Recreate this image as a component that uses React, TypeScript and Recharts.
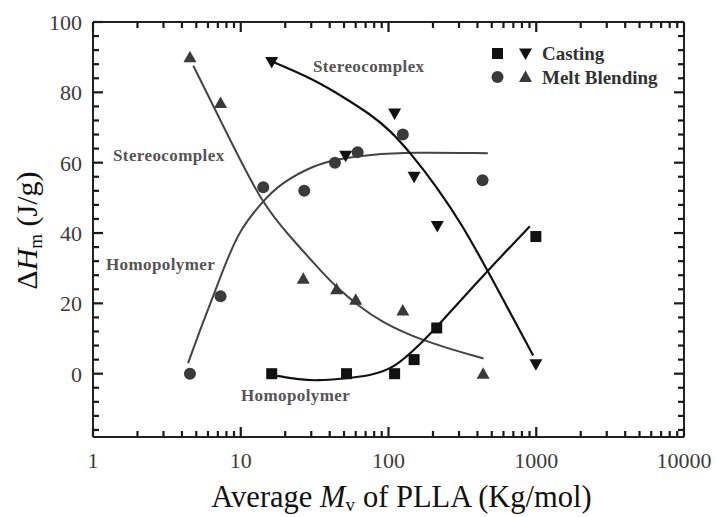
import React from 'react'
import {
  ComposedChart,
  Line,
  Scatter,
  XAxis,
  YAxis,
  ReferenceDot,
  Legend,
} from 'recharts'

// measured points (x = Mv in kg/mol, y = ΔHm in J/g)
const meltStereo = [
  { x: 4.53, y: 0 },
  { x: 7.3, y: 22 },
  { x: 14.2, y: 53 },
  { x: 26.9, y: 52 },
  { x: 43.4, y: 60 },
  { x: 61.8, y: 63 },
  { x: 125, y: 68 },
  { x: 433, y: 55 },
]
const meltHomo = [
  { x: 4.53, y: 90 },
  { x: 7.3, y: 77 },
  { x: 26.5, y: 27 },
  { x: 44.5, y: 24 },
  { x: 60, y: 21 },
  { x: 125, y: 18 },
  { x: 437, y: 0 },
]
const castHomo = [
  { x: 16.2, y: 0 },
  { x: 52, y: 0 },
  { x: 110, y: 0 },
  { x: 149, y: 4 },
  { x: 212, y: 13 },
  { x: 994, y: 39 },
]
const castStereo = [
  { x: 16.2, y: 88.6 },
  { x: 51.3, y: 62 },
  { x: 110, y: 74 },
  { x: 149, y: 56 },
  { x: 214, y: 42 },
  { x: 994, y: 2.7 },
]

// hand-drawn guide curves
const meltStereoFit = [
  { x: 4.4, y: 3 },
  { x: 5.3, y: 12.4 },
  { x: 6.5, y: 22 },
  { x: 8, y: 32 },
  { x: 9.9, y: 41 },
  { x: 13.8, y: 48.6 },
  { x: 18.4, y: 54 },
  { x: 31, y: 59.2 },
  { x: 44.5, y: 61 },
  { x: 75, y: 62.3 },
  { x: 140, y: 63 },
  { x: 470, y: 62.7 },
]
const meltHomoFit = [
  { x: 4.77, y: 87.6 },
  { x: 8, y: 68.6 },
  { x: 13.8, y: 48.6 },
  { x: 21.5, y: 39 },
  { x: 34.4, y: 29.5 },
  { x: 44.5, y: 24.5 },
  { x: 64, y: 19 },
  { x: 87.5, y: 15 },
  { x: 163, y: 9.5 },
  { x: 440, y: 4.3 },
]
const castHomoFit = [
  { x: 17.5, y: -0.6 },
  { x: 25, y: -1.7 },
  { x: 33, y: -2 },
  { x: 49, y: -1.4 },
  { x: 75, y: -0.6 },
  { x: 110, y: 1.6 },
  { x: 163, y: 8.3 },
  { x: 211, y: 13.2 },
  { x: 461, y: 29 },
  { x: 905, y: 41.9 },
]
const castStereoFit = [
  { x: 15.8, y: 89 },
  { x: 31, y: 83.8 },
  { x: 52, y: 78.1 },
  { x: 75, y: 73.8 },
  { x: 102, y: 69.3 },
  { x: 140, y: 62.9 },
  { x: 211, y: 53.3 },
  { x: 320, y: 41.9 },
  { x: 473, y: 29 },
  { x: 953, y: 5.2 },
]

const annotations = [
  { text: 'Stereocomplex', x: 30.8, y: 87.4 },
  { text: 'Stereocomplex', x: 1.366, y: 62 },
  { text: 'Homopolymer', x: 1.224, y: 31 },
  { text: 'Homopolymer', x: 10.04, y: -6.3 },
]

const xMajorTicks = [1, 10, 100, 1000, 10000]
const xTicks = [
  1, 2, 3, 4, 5, 6, 7, 8, 9,
  10, 20, 30, 40, 50, 60, 70, 80, 90,
  100, 200, 300, 400, 500, 600, 700, 800, 900,
  1000, 2000, 3000, 4000, 5000, 6000, 7000, 8000, 9000,
  10000,
]
const yMajorTicks = [0, 20, 40, 60, 80, 100]
const yTicks = [
  -16, -12, -8, -4, 0, 4, 8, 12, 16, 20, 24, 28, 32, 36, 40, 44, 48, 52,
  56, 60, 64, 68, 72, 76, 80, 84, 88, 92, 96, 100,
]

const SERIF = '"Liberation Serif", "Times New Roman", serif'
const FRAME = { stroke: '#222', strokeWidth: 2 }
const TICK = { stroke: '#1a1a1a', strokeWidth: 2.2 }
const MAJOR_LEN = 10
const MINOR_LEN = 6

const DARK = '#111'
const GREY = '#3a3a3a'

function SquareMark({ cx, cy, fill = DARK }: any) {
  return <rect x={cx - 5.5} y={cy - 5.5} width={11} height={11} fill={fill} />
}
function CircleMark({ cx, cy, fill = GREY }: any) {
  return <circle cx={cx} cy={cy} r={6} fill={fill} />
}
function TriUpMark({ cx, cy, fill = GREY }: any) {
  return (
    <path d={`M${cx},${cy - 6.5} L${cx + 6.5},${cy + 5} L${cx - 6.5},${cy + 5} Z`} fill={fill} />
  )
}
function TriDownMark({ cx, cy, fill = DARK }: any) {
  return (
    <path d={`M${cx - 6.5},${cy - 5} L${cx + 6.5},${cy - 5} L${cx},${cy + 6.5} Z`} fill={fill} />
  )
}

// inward ticks drawn by the axes themselves (tickSize 0 -> x/y sit on the axis line)
function BottomTick({ x, y, payload }: any) {
  const major = xMajorTicks.includes(payload.value)
  return (
    <g>
      <line x1={x} x2={x} y1={y} y2={y - (major ? MAJOR_LEN : MINOR_LEN)} {...TICK} />
      {major && (
        <text x={x} y={y + 31} textAnchor="middle" fontFamily={SERIF} fontSize={22} fill="#3c3c3c">
          {payload.value}
        </text>
      )}
    </g>
  )
}
function TopTick({ x, y, payload }: any) {
  const major = xMajorTicks.includes(payload.value)
  return <line x1={x} x2={x} y1={y} y2={y + (major ? MAJOR_LEN : MINOR_LEN)} {...TICK} />
}
function LeftTick({ x, y, payload }: any) {
  const major = yMajorTicks.includes(payload.value)
  return (
    <g>
      <line x1={x} x2={x + (major ? MAJOR_LEN : MINOR_LEN)} y1={y} y2={y} {...TICK} />
      {major && (
        <text x={x - 11} y={y + 8} textAnchor="end" fontFamily={SERIF} fontSize={22} fill="#3c3c3c">
          {payload.value}
        </text>
      )}
    </g>
  )
}
function RightTick({ x, y, payload }: any) {
  const major = yMajorTicks.includes(payload.value)
  return <line x1={x} x2={x - (major ? MAJOR_LEN : MINOR_LEN)} y1={y} y2={y} {...TICK} />
}

function XTitle({ viewBox }: any) {
  const cx = viewBox.x + viewBox.width / 2 + 13
  return (
    <text x={cx} y={viewBox.y + 70} textAnchor="middle" fontFamily={SERIF} fontSize={30.5} fill="#111">
      Average <tspan fontStyle="italic">M</tspan>
      <tspan fontSize={19} dy={4}>v</tspan>
      <tspan dy={-4} dx={8}>of PLLA (Kg/mol)</tspan>
    </text>
  )
}
function YTitle({ viewBox }: any) {
  const cx = 37
  const cy = viewBox.y + viewBox.height / 2 + 1
  return (
    <text
      x={cx}
      y={cy}
      textAnchor="middle"
      fontFamily={SERIF}
      fontSize={30}
      fill="#111"
      transform={`rotate(-90, ${cx}, ${cy})`}
    >
      Δ<tspan fontStyle="italic">H</tspan>
      <tspan fontSize={19} dy={5}>m</tspan>
      <tspan dy={-5}> (J/g)</tspan>
    </text>
  )
}

const legendRows = [
  { label: 'Casting', marks: [SquareMark, TriDownMark] },
  { label: 'Melt Blending', marks: [CircleMark, TriUpMark] },
]

function ChartLegend() {
  return (
    <svg width={200} height={50}>
      {legendRows.map((row, i) => {
        const cy = 11.5 + i * 23.5
        const [A, B] = row.marks
        return (
          <g key={row.label}>
            <A cx={9.5} cy={cy} />
            <B cx={37.5} cy={cy} />
            <text x={54} y={cy + 6.5} fontFamily={SERIF} fontSize={19} fontWeight="bold" fill="#333">
              {row.label}
            </text>
          </g>
        )
      })}
    </svg>
  )
}

const xAxisBase = {
  dataKey: 'x',
  type: 'number' as const,
  scale: 'log' as const,
  domain: [1, 10000],
  allowDataOverflow: true,
  ticks: xTicks,
  interval: 0,
  tickSize: 0,
  tickMargin: 0,
  tickLine: false,
  axisLine: FRAME,
}
const yAxisBase = {
  dataKey: 'y',
  type: 'number' as const,
  domain: [-18, 100],
  allowDataOverflow: true,
  ticks: yTicks,
  interval: 0,
  tickSize: 0,
  tickMargin: 0,
  tickLine: false,
  axisLine: FRAME,
}

export default function App() {
  return (
    <div style={{ position: 'absolute', left: 0, top: 0, width: 716, height: 517, background: '#fff' }}>
      <ComposedChart width={716} height={517} margin={{ top: 21, right: 31, bottom: 40, left: 33 }}>
        <XAxis {...xAxisBase} tick={<BottomTick />} height={40} label={<XTitle />} />
        <XAxis {...xAxisBase} xAxisId="top" orientation="top" tick={<TopTick />} height={1} />
        <YAxis {...yAxisBase} tick={<LeftTick />} width={60} label={<YTitle />} />
        <YAxis {...yAxisBase} yAxisId="right" orientation="right" tick={<RightTick />} width={1} />

        <Line data={meltStereoFit} dataKey="y" type="basis" stroke="#444" strokeWidth={2} dot={false} isAnimationActive={false} />
        <Line data={meltHomoFit} dataKey="y" type="basis" stroke="#444" strokeWidth={2} dot={false} isAnimationActive={false} />
        <Line data={castHomoFit} dataKey="y" type="basis" stroke="#111" strokeWidth={2.2} dot={false} isAnimationActive={false} />
        <Line data={castStereoFit} dataKey="y" type="basis" stroke="#111" strokeWidth={2.2} dot={false} isAnimationActive={false} />

        <Scatter data={meltStereo} dataKey="y" shape={(p: any) => <CircleMark cx={p.cx} cy={p.cy} />} isAnimationActive={false} />
        <Scatter data={meltHomo} dataKey="y" shape={(p: any) => <TriUpMark cx={p.cx} cy={p.cy} />} isAnimationActive={false} />
        <Scatter data={castHomo} dataKey="y" shape={(p: any) => <SquareMark cx={p.cx} cy={p.cy} />} isAnimationActive={false} />
        <Scatter data={castStereo} dataKey="y" shape={(p: any) => <TriDownMark cx={p.cx} cy={p.cy} />} isAnimationActive={false} />

        {annotations.map((a, i) => (
          <ReferenceDot
            key={i}
            x={a.x}
            y={a.y}
            r={0}
            shape={(p: any) => (
              <text
                x={p.cx}
                y={p.cy}
                dominantBaseline="central"
                fontFamily={SERIF}
                fontSize={17}
                fontWeight="bold"
                letterSpacing={0.4}
                fill="#555"
              >
                {a.text}
              </text>
            )}
          />
        ))}

        <Legend
          layout="vertical"
          align="center"
          verticalAlign="middle"
          wrapperStyle={{ left: 488, top: 42, width: 200, height: 50 }}
          content={<ChartLegend />}
        />
      </ComposedChart>
    </div>
  )
}
